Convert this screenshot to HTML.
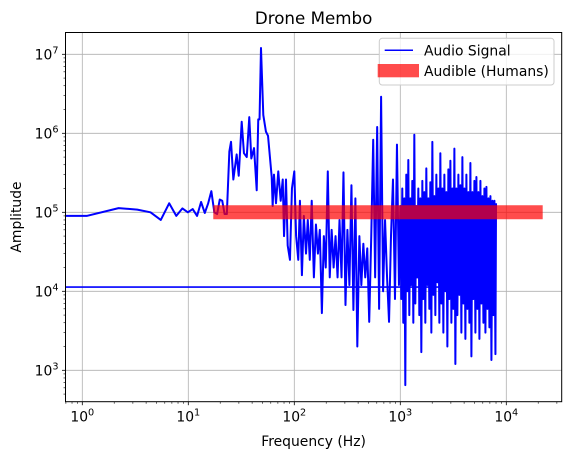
<!DOCTYPE html>
<html><head><meta charset="utf-8"><style>
html,body{margin:0;padding:0;background:#fff;}
svg{display:block;font-family:"DejaVu Sans","Liberation Sans",sans-serif;}
</style></head><body>
<svg id="chart" width="570" height="459" viewBox="0 0 570 459" xmlns="http://www.w3.org/2000/svg">
<defs><clipPath id="plotclip"><rect x="65.5" y="32.5" width="496.2" height="369.2"/></clipPath></defs>
<rect x="0" y="0" width="570" height="459" fill="#fff"/>
<g id="grid"></g>
<g id="series" clip-path="url(#plotclip)"></g>
<g id="ticks"></g>
<rect x="65.5" y="32.5" width="496.2" height="369.2" fill="none" stroke="#000" stroke-width="1"/>
<text x="313.6" y="24" text-anchor="middle" font-size="16.7">Drone Membo</text>
<text x="313.6" y="446" text-anchor="middle" font-size="13.9">Frequency (Hz)</text>
<text x="0" y="0" transform="translate(21,217) rotate(-90)" text-anchor="middle" font-size="13.9">Amplitude</text>
<g>
<rect x="379.3" y="38.3" width="174.7" height="46.7" rx="3" fill="#fff" fill-opacity="0.8" stroke="#cccccc" stroke-width="1"/>
<line x1="384.7" y1="50.3" x2="413" y2="50.3" stroke="#0000ff" stroke-width="1.5"/>
<text x="424" y="55.3" font-size="13.9">Audio Signal</text>
<rect x="377.7" y="64" width="41.3" height="13.3" fill="#ff0000" fill-opacity="0.7"/>
<text x="424" y="76" font-size="13.9">Audible (Humans)</text>
</g>
</svg>
<script>
const freqs = [0.5,1.1,2.2,3.3,4.4,5.5,6.6,7.7,8.8,9.9,11,12.1,13.2,14.3,15.4,16.5,17.6,18.7,19.8,20.9,22,23.1,24.4,25.3,26.6,28.6,29.9,31.9,33.5,35.6,37.6,39.3,41.7,44.2,45.7,47,48.5,51,54,56.5,61.2,62.5,64.3,67.2,70.6,74.4,77.8,80,83.5,86.6,91,95,100,104,109,
113,118,123,129,134,140,146,153,160,167,174,182,190,198,207,216,225,235,245,256,267,279,291,304,317,331,346,361,377,393,411,429,448,467,488,509,532,555,579,605,631,659,688,718,750,783,817,853,891,930,971,
1000,1022,1044,1067,1091,1115,1139,1164,1190,1216,1243,1270,1298,1327,1356,1386,1416,1447,1479,1512,1545,1579,1614,1649,1685,1722,1760,1799,1839,1879,1920,1963,2006,2050,2095,2141,2188,2236,2286,2336,2387,2440,2494,2548,2604,2662,2720,2780,2841,2904,2968,3033,3099,3167,3237,3308,3381,3455,3531,3609,3688,3769,3852,3937,4024,4112,4202,4295,4389,4486,4584,4685,4788,4894,5001,5111,5224,5338,5456,5576,5698,5824,5952,6083,6216,6353,6493,6635,6781,6930,7083,7238,7398,7560,7727,7896,8000];
const amps = [9e4,9e4,1.13e5,1.08e5,1e5,8e4,1.3e5,9e4,1.12e5,1e5,1.1e5,9e4,1.35e5,9.8e4,1.3e5,1.85e5,1e5,9.5e4,1.45e5,1.4e5,9.5e4,9.5e4,5.9e5,7.8e5,2.6e5,5.4e5,2.9e5,1.4e6,5.6e5,5e5,1.6e6,4.8e5,6.5e5,1.9e5,1.5e6,1.5e6,1.2e7,1.7e6,1.05e6,9.3e5,2.8e5,1.2e5,3e5,1.3e5,3.3e5,1.4e5,2.6e5,5e4,2.6e5,3.8e4,2.5e4,2e5,3.3e5,5e4,2.5e4,
1.4e5,1.6e4,9e4,3e4,8e4,2.5e4,1.4e5,1.5e4,7e4,3e4,6e4,5.3e3,5e4,2e4,3.3e5,1.5e4,6e4,2e4,5e4,1.5e4,8e4,1.5e4,3.2e5,6.7e3,6e4,1.2e4,2.2e5,5.8e3,1.5e5,2e3,5e4,1.2e4,4e4,1.5e4,3.5e4,4.1e3,5e4,8.3e5,1.5e4,1.2e6,6e3,2.9e6,1e4,8e4,1.5e4,4.1e3,5e4,2.6e5,8e3,7.2e5,1.2e4,
1.2e5,8e3,2e5,4e3,1.5e5,6.5e2,3e5,1e4,4.6e5,5e3,1.5e5,1.2e4,2.5e5,4e3,9.6e5,7e3,1.2e5,1.5e4,2e5,5e3,1.5e5,1.7e3,2.5e5,8e3,1.8e5,4e3,3.6e5,1.2e4,1.5e5,6e3,2.4e5,3e3,7.8e5,9e3,1.6e5,5e3,3e5,1.3e4,2e5,4e3,5.6e5,7e3,2e5,3e3,3e5,1e4,1.8e5,2e3,3.5e5,8e3,4.5e5,4e3,2e5,6e3,6.4e5,1.2e3,2e5,5e3,3e5,9e3,2.2e5,3e3,5e5,7e3,2e5,2.5e3,3e5,6e3,1.8e5,4e3,4.2e5,1.5e3,1.8e5,8e3,2.5e5,3e3,2.8e5,6e3,1.8e5,2.5e3,2.5e5,7e3,1.6e5,4e3,2e5,3e3,2.1e5,6e3,1.5e5,3.5e3,1.6e5,1.35e3,1.4e5,5e3,1.4e5,1.6e3,1.3e5];
const wrapFreqs = [8000, 0.3];
const wrapAmps = [1.13e4, 1.13e4];
const bandFreqs = [17.2, 22050];
const bandLevel = 1e5;
const xTicks = [1,10,100,1000,10000];
const xTickLabels = ["0","1","2","3","4"];
const yTicks = [1e3,1e4,1e5,1e6,1e7];
const yTickLabels = ["3","4","5","6","7"];

const NS = "http://www.w3.org/2000/svg";
const X0 = 65.5, X1 = 561.7, Y0 = 32.5, Y1 = 401.7;
function xs(f){ return 82.3 + 106 * Math.log10(f); }
function ys(a){ return 370.3 - 79 * (Math.log10(a) - 3); }
function mk(tag, attrs, parent){ const e = document.createElementNS(NS, tag); for (const k in attrs) e.setAttribute(k, attrs[k]); parent.appendChild(e); return e; }

const grid = document.getElementById('grid');
const ticks = document.getElementById('ticks');
const series = document.getElementById('series');

xTicks.forEach((t, i) => {
  const x = xs(t);
  const g = mk('line', {x1:x, y1:Y0, x2:x, y2:Y1, stroke:'#b0b0b0', 'stroke-width':0.8}, grid);
  
  
  const tk = mk('line', {x1:x, y1:Y1, x2:x, y2:Y1+3.5, stroke:'#000', 'stroke-width':0.8}, ticks);
  
  
  const tx = mk('text', {x:x, y:Y1+20, 'text-anchor':'middle', 'font-size':13.9}, ticks);
  
  
  tx.textContent = '10';
  const sp = mk('tspan', {dy:-6, 'font-size':9.7}, tx);
  sp.textContent = xTickLabels[i];
});
for (let d = -1; d <= 4; d++) for (let m = 2; m <= 9; m++) {
  const f = m * Math.pow(10, d); const x = xs(f);
  if (x < X0 || x > X1) continue;
  const tk = mk('line', {x1:x, y1:Y1, x2:x, y2:Y1+2, stroke:'#000', 'stroke-width':0.6}, ticks);
  
  
}
yTicks.forEach((t, i) => {
  const y = ys(t);
  const g = mk('line', {x1:X0, y1:y, x2:X1, y2:y, stroke:'#b0b0b0', 'stroke-width':0.8}, grid);
  
  
  const tk = mk('line', {x1:X0-3.5, y1:y, x2:X0, y2:y, stroke:'#000', 'stroke-width':0.8}, ticks);
  
  
  const tx = mk('text', {x:X0-7, y:y+5, 'text-anchor':'end', 'font-size':13.9}, ticks);
  
  
  tx.textContent = '10';
  const sp = mk('tspan', {dy:-6, 'font-size':9.7}, tx);
  sp.textContent = yTickLabels[i];
});
for (let d = 2; d <= 7; d++) for (let m = 2; m <= 9; m++) {
  const a = m * Math.pow(10, d); const y = ys(a);
  if (y < Y0 || y > Y1) continue;
  const tk = mk('line', {x1:X0-2, y1:y, x2:X0, y2:y, stroke:'#000', 'stroke-width':0.6}, ticks);
  
  
}

const wrap = mk('polyline', {points: wrapFreqs.map((f,i)=>xs(f)+','+ys(wrapAmps[i])).join(' '), fill:'none', stroke:'#0000ff', 'stroke-width':1.6}, series);


const line = mk('polyline', {points: freqs.map((f,i)=>xs(f).toFixed(2)+','+ys(amps[i]).toFixed(2)).join(' '), fill:'none', stroke:'#0000ff', 'stroke-width':2, 'stroke-linejoin':'round'}, series);


const by = ys(bandLevel);
const band = mk('line', {x1:xs(bandFreqs[0]), y1:by, x2:xs(bandFreqs[1]), y2:by, stroke:'#ff0000', 'stroke-opacity':0.7, 'stroke-width':14}, series);


</script>
</body></html>
